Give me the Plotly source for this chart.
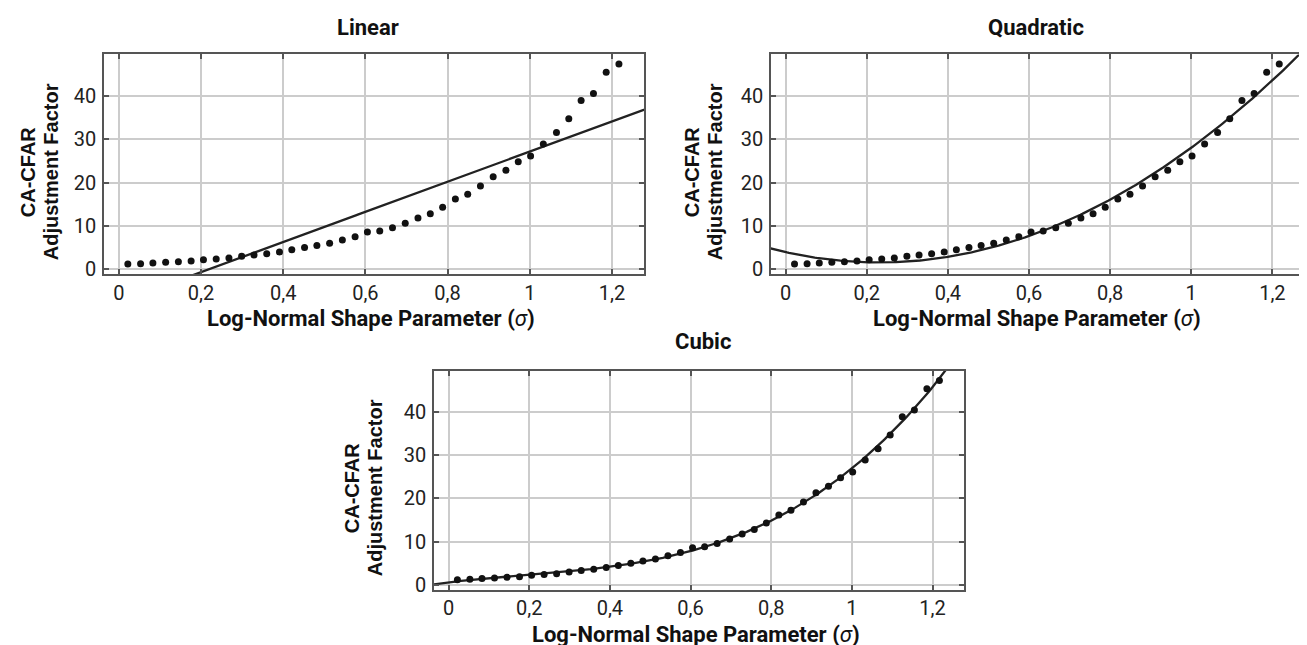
import numpy as np
import plotly.graph_objects as go

# sigma values of the simulated points
sigma = [0.022, 0.053, 0.083, 0.114, 0.145, 0.176, 0.206, 0.237, 0.268, 0.299,
         0.329, 0.360, 0.391, 0.421, 0.452, 0.482, 0.513, 0.544, 0.575, 0.605,
         0.635, 0.666, 0.697, 0.728, 0.758, 0.788, 0.819, 0.849, 0.880, 0.911,
         0.942, 0.972, 1.002, 1.033, 1.065, 1.095, 1.125, 1.155, 1.186, 1.217]
# CA-CFAR adjustment factor
factor = [1.2, 1.3, 1.45, 1.6, 1.75, 1.9, 2.2, 2.4, 2.6, 3.0,
          3.3, 3.6, 4.0, 4.5, 5.0, 5.5, 6.0, 6.75, 7.5, 8.6,
          8.8, 9.6, 10.6, 11.8, 12.8, 14.3, 16.2, 17.3, 19.2, 21.3,
          22.8, 24.8, 26.1, 28.9, 31.5, 34.7, 38.9, 40.5, 45.4, 47.3]

panels = ["Linear", "Quadratic", "Cubic"]
degrees = [1, 2, 3]
ytitle_lines = ["CA-CFAR", "Adjustment Factor"]

W, H = 1307, 645
# plot boxes in pixels: left, right, top, bottom
boxes = [(96, 636, 47, 269), (763, 1296, 47, 269), (426, 956, 367, 588)]
title_pos = [(360, 20), (1028, 20), (695, 337)]
xtitle_pos = [(363, 314), (1029, 314), (688, 633)]
ytitle_x = [(20, 43), (684, 707), (344, 367)]

grid_c = "#cccccc"
frame_c = "#555555"
tick_font = dict(family="Roboto", size=20, color="#222")
bold_font = dict(family="Roboto", size=22, color="#111")

fig = go.Figure()
xs = np.linspace(-0.06, 1.3, 300)
annotations = []

for i, (name, deg) in enumerate(zip(panels, degrees)):
    sfx = "" if i == 0 else str(i + 1)
    l, r, t, b = boxes[i]
    coef = np.polyfit(sigma, factor, deg)
    fig.add_trace(go.Scatter(x=xs, y=np.polyval(coef, xs), mode="lines",
                             line=dict(color="#222", width=2.3),
                             xaxis="x" + sfx, yaxis="y" + sfx, showlegend=False))
    fig.add_trace(go.Scatter(x=sigma, y=factor, mode="markers",
                             marker=dict(color="#111", size=7),
                             xaxis="x" + sfx, yaxis="y" + sfx, showlegend=False))
    axis_common = dict(showline=True, linecolor=frame_c, linewidth=1.5, mirror="ticks",
                       ticks="inside", ticklen=5, tickcolor=frame_c, tickwidth=1.5,
                       showgrid=True, gridcolor=grid_c, gridwidth=1.8, zeroline=False,
                       tickfont=tick_font)
    fig.update_layout(**{
        "xaxis" + sfx: dict(domain=[l / W, r / W], range=[-0.036, 1.278],
                            tick0=0, dtick=0.2, anchor="y" + sfx, **axis_common),
        "yaxis" + sfx: dict(domain=[1 - b / H, 1 - t / H], range=[-1.1, 49.5],
                            tick0=0, dtick=10, anchor="x" + sfx, ticklabelstandoff=2,
                            **axis_common),
    })
    tx, ty = title_pos[i]
    annotations.append(dict(text="<b>" + name + "</b>", x=tx / W, y=1 - ty / H,
                            xref="paper", yref="paper", showarrow=False, font=bold_font,
                            xanchor="center", yanchor="middle"))
    xx, xy = xtitle_pos[i]
    annotations.append(dict(text="<b>Log-Normal Shape Parameter (</b><i>σ</i><b>)</b>",
                            x=xx / W, y=1 - xy / H, xref="paper", yref="paper",
                            showarrow=False, font=bold_font,
                            xanchor="center", yanchor="middle"))
    for line, lx in zip(ytitle_lines, ytitle_x[i]):
        annotations.append(dict(text="<b>" + line + "</b>", x=lx / W,
                                y=1 - ((t + b) / 2 + 8) / H, xref="paper", yref="paper",
                                showarrow=False, textangle=-90,
                                font=dict(family="Liberation Sans, Arial, sans-serif",
                                          size=20, color="#111"),
                                xanchor="center", yanchor="middle"))

fig.update_layout(width=W, height=H, margin=dict(l=0, r=0, t=0, b=0),
                  paper_bgcolor="white", plot_bgcolor="white", separators=", ",
                  annotations=annotations)

fig.write_html("out.html")
